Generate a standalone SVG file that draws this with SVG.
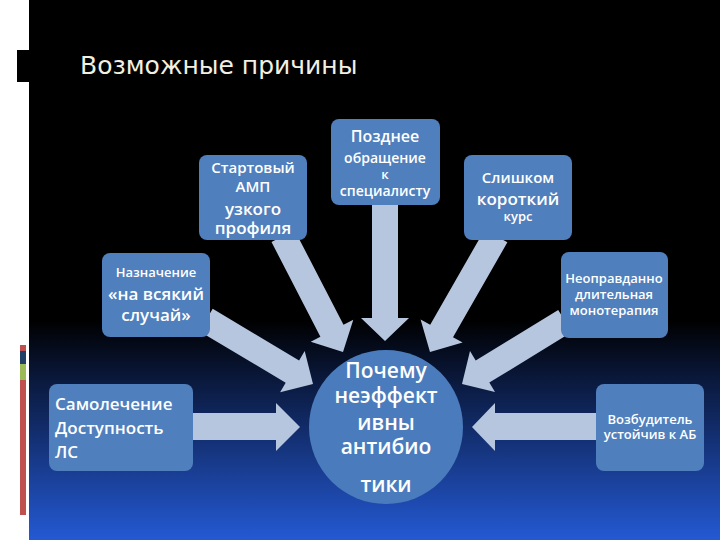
<svg xmlns="http://www.w3.org/2000/svg" width="720" height="540" viewBox="0 0 720 540">
  <defs>
    <linearGradient id="bg" x1="0" y1="320" x2="0" y2="540" gradientUnits="userSpaceOnUse">
      <stop offset="0" stop-color="#000000"/>
      <stop offset="0.3" stop-color="#0b1b42"/>
      <stop offset="1" stop-color="#2459d3"/>
    </linearGradient>
  </defs>
  <style>
    .box { fill: #4f7fbd; }
    .arrow { fill: #b7c6df; }
    .t { fill: #ffffff; font-family: "Open Sans", "Liberation Sans", sans-serif; font-weight: 600; text-anchor: middle; }
    .tl { fill: #ffffff; font-family: "Open Sans", "Liberation Sans", sans-serif; font-weight: 600; }
    .title { fill: #f2f0e2; font-family: "DejaVu Sans", sans-serif; font-size: 25px; }
  </style>

  <g id="background">
    <rect x="0" y="0" width="720" height="540" fill="#ffffff"/>
    <rect x="29" y="0" width="691" height="540" fill="url(#bg)"/>
    <rect x="17" y="50" width="12" height="32" fill="#000000"/>
    <rect x="20" y="345" width="6" height="6" fill="#c0504d"/>
    <rect x="20" y="351" width="6" height="13" fill="#1f3f66"/>
    <rect x="20" y="364" width="6" height="16" fill="#9bbb59"/>
    <rect x="20" y="380" width="6" height="135" fill="#c0504d"/>
  </g>

  <text id="title" class="title" x="80" y="74">Возможные причины</text>

  <g id="connectors">
    <polygon class="arrow" points="271.5,242 320.4,336.7 310.7,341.7 343,352 353.3,319.7 343.5,324.7 294.5,230"/>
    <polygon class="arrow" points="372,200 372,318 361,318 385,341 409,318 398,318 398,200"/>
    <polygon class="arrow" points="484.6,229.7 430.2,324.7 420.6,319.4 430,352 462.6,342.6 453,337.3 507.4,242.3"/>
    <polygon class="arrow" points="199.3,331.2 285.7,382.8 280.1,392.3 313,384 304.7,351.1 299.1,360.5 212.7,308.8"/>
    <polygon class="arrow" points="558.2,309.9 475.7,360.4 470,351 462,384 495,392 489.3,382.6 571.8,332.1"/>
    <polygon class="arrow" points="190,413 276,413 276,403 300,427 276,451 276,440 190,440"/>
    <polygon class="arrow" points="600,413 495,413 495,403 472,427 495,451 495,440 600,440"/>
  </g>

  <g id="node-start">
    <rect class="box" x="199" y="155" width="108" height="85" rx="8"/>
    <text class="t" x="253" y="173" font-size="15">Стартовый</text>
    <text class="t" x="253" y="192" font-size="15">АМП</text>
    <text class="t" x="253" y="215" font-size="17">узкого</text>
    <text class="t" x="253" y="234" font-size="17">профиля</text>
  </g>

  <g id="node-late">
    <rect class="box" x="331" y="119" width="109" height="86" rx="8"/>
    <text class="t" x="385" y="142" font-size="16">Позднее</text>
    <text class="t" x="385" y="163" font-size="14">обращение</text>
    <text class="t" x="385" y="179" font-size="13">к</text>
    <text class="t" x="385" y="196" font-size="14">специалисту</text>
  </g>

  <g id="node-short">
    <rect class="box" x="464" y="155" width="108" height="85" rx="8"/>
    <text class="t" x="518" y="183" font-size="15">Слишком</text>
    <text class="t" x="518" y="205" font-size="17">короткий</text>
    <text class="t" x="518" y="221" font-size="13">курс</text>
  </g>

  <g id="node-mono">
    <rect class="box" x="561" y="252" width="107" height="86" rx="8"/>
    <text class="t" x="614" y="283" font-size="13">Неоправданно</text>
    <text class="t" x="614" y="299" font-size="13">длительная</text>
    <text class="t" x="614" y="315" font-size="13">монотерапия</text>
  </g>

  <g id="node-just-in-case">
    <rect class="box" x="102" y="253" width="108" height="84" rx="8"/>
    <text class="t" x="156" y="277" font-size="13">Назначение</text>
    <text class="t" x="156" y="300" font-size="17">«на всякий</text>
    <text class="t" x="156" y="321" font-size="17">случай»</text>
  </g>

  <g id="node-self">
    <rect class="box" x="49" y="384" width="144" height="87" rx="8"/>
    <text class="tl" x="55" y="410" font-size="17">Самолечение</text>
    <text class="tl" x="55" y="434" font-size="17">Доступность</text>
    <text class="tl" x="55" y="458" font-size="17">ЛС</text>
  </g>

  <g id="node-resistant">
    <rect class="box" x="596" y="384" width="108" height="87" rx="8"/>
    <text class="t" x="650" y="424" font-size="13">Возбудитель</text>
    <text class="t" x="650" y="439" font-size="13">устойчив к АБ</text>
  </g>

  <g id="node-center">
    <circle cx="386" cy="427" r="77" fill="#4a7cbd"/>
    <text class="t" x="386" y="378" font-size="21">Почему</text>
    <text class="t" x="386" y="403" font-size="21">неэффект</text>
    <text class="t" x="386" y="430" font-size="21">ивны</text>
    <text class="t" x="386" y="454" font-size="21">антибио</text>
    <text class="t" x="386" y="492" font-size="21">тики</text>
  </g>
</svg>
